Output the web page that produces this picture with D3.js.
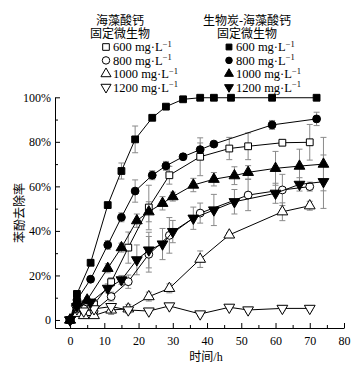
<!DOCTYPE html>
<meta charset="utf-8">
<style>
body { margin: 0; background: #fff; }
text { font-family: "Liberation Serif", "Noto Sans CJK SC", serif; fill: #000; }
.cjk { font-family: "Liberation Serif", "Noto Sans CJK SC", sans-serif; }
.err line { stroke: #8a8a8a; stroke-width: 1; }
.series path.line { fill: none; stroke: #000; stroke-width: 1; }
</style>
<svg width="363" height="367"></svg>
<script src="https://d3js.org/d3.v7.min.js"></script>
<script>

// calcium alginate immobilised (open markers)
var open600T = [0, 2, 4, 7, 12, 17, 23, 29, 38, 46.5, 52, 62, 70],
    open600V = [0, 5, 6, 7, 17, 32.5, 50.5, 65, 73.3, 77, 78, 79.6, 79.8],
    open600E = [1, 2, 2, 2, 2, 7, 10, 4, 8.5, 5, 6, 1, 8];
var open800T = [0, 2, 4, 7, 12, 17, 23, 29, 38, 52, 62, 70],
    open800V = [0, 4, 5, 4, 10.5, 17.2, 29.5, 38, 48, 56.1, 58.4, 59.9],
    open800E = [1, 2, 2, 2, 2, 3, 8, 8, 4.5, 7, 7, 2];
var open1000T = [0, 2, 4, 7, 12, 17, 23, 29, 38, 46.5, 62, 70],
    open1000V = [0, 3, 2, 2, 4.5, 5, 10.5, 14.2, 27.3, 38.2, 48.6, 51.3],
    open1000E = [1, 1, 1, 1, 2, 2, 2, 2, 3.7, 1, 4, 2];
var open1200T = [0, 2, 4, 7, 12, 17, 23, 29, 38, 46.5, 52, 62, 70],
    open1200V = [0, 5, 4, 5, 6, 4.5, 4, 6.3, 2.7, 5.7, 4.5, 5.2, 5.2],
    open1200E = [1, 1, 1, 1, 1, 1, 1, 1, 1, 1, 1, 1, 1];

// biochar - calcium alginate immobilised (filled markers)
var bio600T = [0, 2, 6, 11, 15, 19, 24, 28, 33, 38, 42, 47, 59, 72],
    bio600V = [0, 11.7, 25.7, 51.6, 66.9, 81.1, 90.8, 95.8, 99.1, 99.8, 99.8, 99.8, 99.8, 99.8],
    bio600E = [1, 1, 1, 1, 3.6, 6, 1, 1, 1, 0.5, 0.5, 0.5, 0.5, 0.5];
var bio800T = [0, 2, 6, 11, 15, 19, 24, 28, 33, 38, 42, 59, 72],
    bio800V = [0, 9, 18.3, 33.7, 46.1, 57.9, 65, 69.2, 73.3, 76.5, 79, 87.6, 90.3],
    bio800E = [1, 1, 1, 2, 2, 5, 2, 2, 1, 3, 1, 2, 3];
var bio1000T = [0, 2, 5, 11, 15, 19.5, 23, 27, 30, 36, 42, 48, 52, 60, 67, 74],
    bio1000V = [0, 8, 9, 23.2, 32.5, 44.6, 48.6, 52.4, 55.4, 60.6, 63.2, 64.8, 66.3, 68.1, 69.1, 70],
    bio1000E = [1, 1, 1, 2, 2, 3, 4.5, 3, 2, 3, 3, 4, 3, 7.6, 7.6, 12];
var bio1200T = [0, 2, 6, 11, 15, 19.5, 23, 27, 30, 36, 42, 48, 60, 67, 74],
    bio1200V = [0, 6, 8, 14.2, 18, 27, 31.4, 34.1, 39.7, 45.7, 49.4, 53.1, 56.9, 60.9, 62.1],
    bio1200E = [1, 1, 1, 2, 2, 6.7, 8, 7, 5, 5, 7, 5.5, 4.5, 3, 12];

var concLabels = ["600", "800", "1000", "1200"];
var yTicks = [0, 20, 40, 60, 80, 100],
    xTicks = [0, 10, 20, 30, 40, 50, 60, 70, 80];

var series = [
  { t: open600T, v: open600V, e: open600E, sym: d3.symbolSquare, filled: false, size: 46 },
  { t: open800T, v: open800V, e: open800E, sym: d3.symbolCircle, filled: false, size: 48 },
  { t: open1000T, v: open1000V, e: open1000E, sym: d3.symbolTriangle, filled: false, size: 50 },
  { t: open1200T, v: open1200V, e: open1200E, sym: d3.symbolTriangle, filled: false, size: 50, flip: true },
  { t: bio600T, v: bio600V, e: bio600E, sym: d3.symbolSquare, filled: true, size: 46 },
  { t: bio800T, v: bio800V, e: bio800E, sym: d3.symbolCircle, filled: true, size: 48 },
  { t: bio1000T, v: bio1000V, e: bio1000E, sym: d3.symbolTriangle, filled: true, size: 50 },
  { t: bio1200T, v: bio1200V, e: bio1200E, sym: d3.symbolTriangle, filled: true, size: 50, flip: true }
];

var svg = d3.select("svg");

var x = d3.scaleLinear().domain([-4.4, 80]).range([55, 344]),
    y = d3.scaleLinear().domain([-3.6, 100]).range([328, 97.3]);

// axes, ticks pointing inward
svg.append("g").attr("transform", "translate(55,0)")
    .call(d3.axisLeft(y).tickValues(yTicks).tickSizeInner(-5).tickSizeOuter(0).tickPadding(4)
      .tickFormat(function(d) { return d === 0 ? "0" : d + "%"; }));
svg.append("g").attr("transform", "translate(55,0)")
    .call(d3.axisLeft(y).tickValues([10, 30, 50, 70, 90]).tickSizeInner(-3).tickSizeOuter(0).tickFormat(""))
    .select(".domain").remove();

svg.append("g").attr("transform", "translate(0,328)")
    .call(d3.axisBottom(x).tickValues(xTicks).tickSizeInner(-5).tickSizeOuter(0).tickPadding(8));
svg.append("g").attr("transform", "translate(0,328)")
    .call(d3.axisBottom(x).tickValues([5, 15, 25, 35, 45, 55, 65, 75]).tickSizeInner(-3).tickSizeOuter(0).tickFormat(""))
    .select(".domain").remove();

svg.selectAll(".tick text").style("font-size", "12px").style("font-family", "'Liberation Serif', serif");
svg.selectAll(".domain, .tick line").attr("stroke", "#000");

svg.append("text").attr("class", "cjk")
    .attr("transform", "translate(24,213) rotate(-90)")
    .attr("text-anchor", "middle")
    .style("font-size", "12px")
    .text("苯酚去除率");

svg.append("text")
    .attr("x", 206).attr("y", 361)
    .attr("text-anchor", "middle")
    .style("font-size", "12px")
    .text("时间/h");

// error bars
series.forEach(function(s) {
  var g = svg.append("g").attr("class", "err");
  s.t.forEach(function(t, i) {
    var cx = x(t), lo = y(s.v[i] - s.e[i]), hi = y(s.v[i] + s.e[i]);
    g.append("line").attr("x1", cx).attr("x2", cx).attr("y1", lo).attr("y2", hi);
    g.append("line").attr("x1", cx - 3).attr("x2", cx + 3).attr("y1", lo).attr("y2", lo);
    g.append("line").attr("x1", cx - 3).attr("x2", cx + 3).attr("y1", hi).attr("y2", hi);
  });
});

var line = d3.line().x(function(d) { return x(d[0]); }).y(function(d) { return y(d[1]); });

series.forEach(function(s) {
  var pts = s.t.map(function(t, i) { return [t, s.v[i]]; });
  var g = svg.append("g").attr("class", "series");
  g.append("path").attr("class", "line").attr("d", line(pts));
  g.selectAll(".pt").data(pts).enter().append("path")
      .attr("class", "pt")
      .attr("d", d3.symbol().type(s.sym).size(s.size))
      .attr("transform", function(d) {
        return "translate(" + x(d[0]) + "," + y(d[1]) + ")" + (s.flip ? " rotate(180)" : "");
      })
      .attr("fill", s.filled ? "#000" : "#fff")
      .attr("stroke", "#000")
      .attr("stroke-width", 1);
});

// legend
function legendBlock(cx, title1, title2, symX, filled) {
  svg.append("text").attr("class", "cjk").attr("x", cx).attr("y", 24.5)
      .attr("text-anchor", "middle").style("font-size", "12px").text(title1);
  svg.append("text").attr("class", "cjk").attr("x", cx).attr("y", 38)
      .attr("text-anchor", "middle").style("font-size", "12px").text(title2);
  var syms = [d3.symbolSquare, d3.symbolCircle, d3.symbolTriangle, d3.symbolTriangle];
  concLabels.forEach(function(c, i) {
    var yy = 47 + i * 13.4;
    svg.append("path")
        .attr("d", d3.symbol().type(syms[i]).size(filled ? 34 : 44))
        .attr("transform", "translate(" + symX + "," + yy + ")" + (i === 3 ? " rotate(180)" : ""))
        .attr("fill", filled ? "#000" : "#fff").attr("stroke", "#000");
    var tx = svg.append("text").attr("x", symX + 7).attr("y", yy + 4.3).style("font-size", "12.5px");
    tx.append("tspan").text(c + " mg·L");
    tx.append("tspan").attr("dy", -4.5).style("font-size", "8.5px").text("−1");
  });
}
legendBlock(120, "海藻酸钙", "固定微生物", 106, false);
legendBlock(247, "生物炭-海藻酸钙", "固定微生物", 229, true);

</script>
